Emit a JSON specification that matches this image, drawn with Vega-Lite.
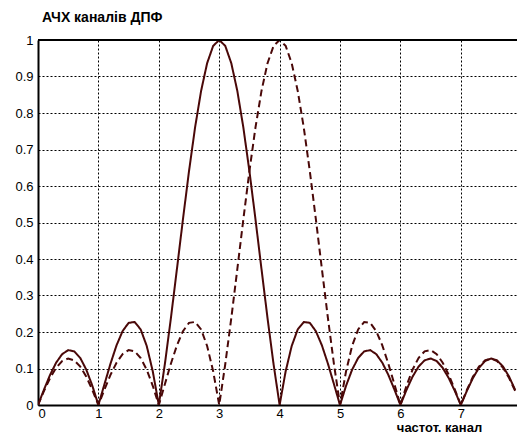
{
  "$schema": "https://vega.github.io/schema/vega-lite/v6.json",
  "width": 479,
  "height": 365,
  "autosize": {"type": "none"},
  "padding": {"left": 38, "top": 40, "right": 0, "bottom": 30},
  "background": "white",
  "config": {
    "view": {"stroke": null},
    "font": "Liberation Sans",
    "axis": {"labelFont": "Liberation Sans", "labelFontSize": 13, "labelColor": "black", "labelOverlap": false, "domainColor": "black", "domainWidth": 2, "ticks": false, "gridColor": "black", "gridDash": [2, 2], "gridOpacity": 1, "gridWidth": 1}
  },
  "title": {"text": "АЧХ каналів ДПФ", "anchor": "start", "frame": "group", "dx": 4, "dy": 19, "offset": 17, "fontSize": 14, "fontWeight": "bold", "font": "Liberation Sans", "color": "black", "baseline": "alphabetic"},
  "data": {"values": [
    {"x":0,"y":0,"c":"k3"},{"x":0.1,"y":0.0425,"c":"k3"},{"x":0.2,"y":0.0825,"c":"k3"},{"x":0.3,"y":0.1159,"c":"k3"},{"x":0.4,"y":0.1394,"c":"k3"},{"x":0.5,"y":0.1503,"c":"k3"},{"x":0.6,"y":0.147,"c":"k3"},{"x":0.7,"y":0.1288,"c":"k3"},{"x":0.8,"y":0.0966,"c":"k3"},{"x":0.9,"y":0.0526,"c":"k3"},
    {"x":1,"y":0,"c":"k3"},{"x":1.1,"y":0.0569,"c":"k3"},{"x":1.2,"y":0.1131,"c":"k3"},{"x":1.3,"y":0.1634,"c":"k3"},{"x":1.4,"y":0.2023,"c":"k3"},{"x":1.5,"y":0.225,"c":"k3"},{"x":1.6,"y":0.2275,"c":"k3"},{"x":1.7,"y":0.207,"c":"k3"},{"x":1.8,"y":0.1618,"c":"k3"},{"x":1.9,"y":0.0923,"c":"k3"},
    {"x":2,"y":0,"c":"k3"},{"x":2.1,"y":0.1116,"c":"k3"},{"x":2.2,"y":0.2378,"c":"k3"},{"x":2.3,"y":0.3726,"c":"k3"},{"x":2.4,"y":0.5093,"c":"k3"},{"x":2.5,"y":0.6407,"c":"k3"},{"x":2.6,"y":0.76,"c":"k3"},{"x":2.7,"y":0.8604,"c":"k3"},{"x":2.8,"y":0.9365,"c":"k3"},{"x":2.9,"y":0.9839,"c":"k3"},
    {"x":3,"y":1,"c":"k3"},{"x":3.1,"y":0.9839,"c":"k3"},{"x":3.2,"y":0.9365,"c":"k3"},{"x":3.3,"y":0.8604,"c":"k3"},{"x":3.4,"y":0.76,"c":"k3"},{"x":3.5,"y":0.6407,"c":"k3"},{"x":3.6,"y":0.5093,"c":"k3"},{"x":3.7,"y":0.3726,"c":"k3"},{"x":3.8,"y":0.2378,"c":"k3"},{"x":3.9,"y":0.1116,"c":"k3"},
    {"x":4,"y":0,"c":"k3"},{"x":4.1,"y":0.0923,"c":"k3"},{"x":4.2,"y":0.1618,"c":"k3"},{"x":4.3,"y":0.207,"c":"k3"},{"x":4.4,"y":0.2275,"c":"k3"},{"x":4.5,"y":0.225,"c":"k3"},{"x":4.6,"y":0.2023,"c":"k3"},{"x":4.7,"y":0.1634,"c":"k3"},{"x":4.8,"y":0.1131,"c":"k3"},{"x":4.9,"y":0.0569,"c":"k3"},
    {"x":5,"y":0,"c":"k3"},{"x":5.1,"y":0.0526,"c":"k3"},{"x":5.2,"y":0.0966,"c":"k3"},{"x":5.3,"y":0.1288,"c":"k3"},{"x":5.4,"y":0.147,"c":"k3"},{"x":5.5,"y":0.1503,"c":"k3"},{"x":5.6,"y":0.1394,"c":"k3"},{"x":5.7,"y":0.1159,"c":"k3"},{"x":5.8,"y":0.0825,"c":"k3"},{"x":5.9,"y":0.0425,"c":"k3"},
    {"x":6,"y":0,"c":"k3"},{"x":6.1,"y":0.0412,"c":"k3"},{"x":6.2,"y":0.0773,"c":"k3"},{"x":6.3,"y":0.1051,"c":"k3"},{"x":6.4,"y":0.1223,"c":"k3"},{"x":6.5,"y":0.1275,"c":"k3"},{"x":6.6,"y":0.1204,"c":"k3"},{"x":6.7,"y":0.1018,"c":"k3"},{"x":6.8,"y":0.0737,"c":"k3"},{"x":6.9,"y":0.0387,"c":"k3"},
    {"x":7,"y":0,"c":"k3"},{"x":7.1,"y":0.0387,"c":"k3"},{"x":7.2,"y":0.0737,"c":"k3"},{"x":7.3,"y":0.1018,"c":"k3"},{"x":7.4,"y":0.1204,"c":"k3"},{"x":7.5,"y":0.1275,"c":"k3"},{"x":7.6,"y":0.1223,"c":"k3"},{"x":7.7,"y":0.1051,"c":"k3"},{"x":7.8,"y":0.0773,"c":"k3"},{"x":7.9,"y":0.0412,"c":"k3"},
    {"x":0,"y":0,"c":"k4"},{"x":0.1,"y":0.0387,"c":"k4"},{"x":0.2,"y":0.0737,"c":"k4"},{"x":0.3,"y":0.1018,"c":"k4"},{"x":0.4,"y":0.1204,"c":"k4"},{"x":0.5,"y":0.1275,"c":"k4"},{"x":0.6,"y":0.1223,"c":"k4"},{"x":0.7,"y":0.1051,"c":"k4"},{"x":0.8,"y":0.0773,"c":"k4"},{"x":0.9,"y":0.0412,"c":"k4"},
    {"x":1,"y":0,"c":"k4"},{"x":1.1,"y":0.0425,"c":"k4"},{"x":1.2,"y":0.0825,"c":"k4"},{"x":1.3,"y":0.1159,"c":"k4"},{"x":1.4,"y":0.1394,"c":"k4"},{"x":1.5,"y":0.1503,"c":"k4"},{"x":1.6,"y":0.147,"c":"k4"},{"x":1.7,"y":0.1288,"c":"k4"},{"x":1.8,"y":0.0966,"c":"k4"},{"x":1.9,"y":0.0526,"c":"k4"},
    {"x":2,"y":0,"c":"k4"},{"x":2.1,"y":0.0569,"c":"k4"},{"x":2.2,"y":0.1131,"c":"k4"},{"x":2.3,"y":0.1634,"c":"k4"},{"x":2.4,"y":0.2023,"c":"k4"},{"x":2.5,"y":0.225,"c":"k4"},{"x":2.6,"y":0.2275,"c":"k4"},{"x":2.7,"y":0.207,"c":"k4"},{"x":2.8,"y":0.1618,"c":"k4"},{"x":2.9,"y":0.0923,"c":"k4"},
    {"x":3,"y":0,"c":"k4"},{"x":3.1,"y":0.1116,"c":"k4"},{"x":3.2,"y":0.2378,"c":"k4"},{"x":3.3,"y":0.3726,"c":"k4"},{"x":3.4,"y":0.5093,"c":"k4"},{"x":3.5,"y":0.6407,"c":"k4"},{"x":3.6,"y":0.76,"c":"k4"},{"x":3.7,"y":0.8604,"c":"k4"},{"x":3.8,"y":0.9365,"c":"k4"},{"x":3.9,"y":0.9839,"c":"k4"},
    {"x":4,"y":1,"c":"k4"},{"x":4.1,"y":0.9839,"c":"k4"},{"x":4.2,"y":0.9365,"c":"k4"},{"x":4.3,"y":0.8604,"c":"k4"},{"x":4.4,"y":0.76,"c":"k4"},{"x":4.5,"y":0.6407,"c":"k4"},{"x":4.6,"y":0.5093,"c":"k4"},{"x":4.7,"y":0.3726,"c":"k4"},{"x":4.8,"y":0.2378,"c":"k4"},{"x":4.9,"y":0.1116,"c":"k4"},
    {"x":5,"y":0,"c":"k4"},{"x":5.1,"y":0.0923,"c":"k4"},{"x":5.2,"y":0.1618,"c":"k4"},{"x":5.3,"y":0.207,"c":"k4"},{"x":5.4,"y":0.2275,"c":"k4"},{"x":5.5,"y":0.225,"c":"k4"},{"x":5.6,"y":0.2023,"c":"k4"},{"x":5.7,"y":0.1634,"c":"k4"},{"x":5.8,"y":0.1131,"c":"k4"},{"x":5.9,"y":0.0569,"c":"k4"},
    {"x":6,"y":0,"c":"k4"},{"x":6.1,"y":0.0526,"c":"k4"},{"x":6.2,"y":0.0966,"c":"k4"},{"x":6.3,"y":0.1288,"c":"k4"},{"x":6.4,"y":0.147,"c":"k4"},{"x":6.5,"y":0.1503,"c":"k4"},{"x":6.6,"y":0.1394,"c":"k4"},{"x":6.7,"y":0.1159,"c":"k4"},{"x":6.8,"y":0.0825,"c":"k4"},{"x":6.9,"y":0.0425,"c":"k4"},
    {"x":7,"y":0,"c":"k4"},{"x":7.1,"y":0.0412,"c":"k4"},{"x":7.2,"y":0.0773,"c":"k4"},{"x":7.3,"y":0.1051,"c":"k4"},{"x":7.4,"y":0.1223,"c":"k4"},{"x":7.5,"y":0.1275,"c":"k4"},{"x":7.6,"y":0.1204,"c":"k4"},{"x":7.7,"y":0.1018,"c":"k4"},{"x":7.8,"y":0.0737,"c":"k4"},{"x":7.9,"y":0.0387,"c":"k4"}
  ]},
  "layer": [
    {
      "mark": {"type": "line", "color": "#4a0808", "strokeWidth": 2, "clip": true},
      "encoding": {
        "x": {"field": "x", "type": "quantitative", "scale": {"domain": [0, 7.93], "nice": false, "zero": false},
          "axis": {"values": [0,1,2,3,4,5,6,7], "labelPadding": 2, "title": "частот. канал", "titleFont": "Liberation Sans", "titleFontSize": 13, "titleFontWeight": "bold", "titleColor": "black", "titleX": 401, "titleY": 29.5, "titleAlign": "center", "titleBaseline": "bottom"}},
        "y": {"field": "y", "type": "quantitative", "scale": {"domain": [0, 1], "nice": false},
          "axis": {"values": [0,0.1,0.2,0.3,0.4,0.5,0.6,0.7,0.8,0.9,1], "format": ".1~f", "labelPadding": 5, "labelOverlap": false, "title": null}},
        "detail": {"field": "c"},
        "strokeDash": {"field": "c", "type": "nominal", "scale": {"domain": ["k3", "k4"], "range": [[1, 0], [7, 4]]}, "legend": null}
      }
    },
    {
      "mark": {"type": "rule", "color": "black", "strokeWidth": 1},
      "encoding": {"y": {"datum": 1, "type": "quantitative",
        "axis": {"values": [0,0.1,0.2,0.3,0.4,0.5,0.6,0.7,0.8,0.9,1], "format": ".1~f", "labelPadding": 5, "labelOverlap": false, "title": null}}}
    }
  ]
}
